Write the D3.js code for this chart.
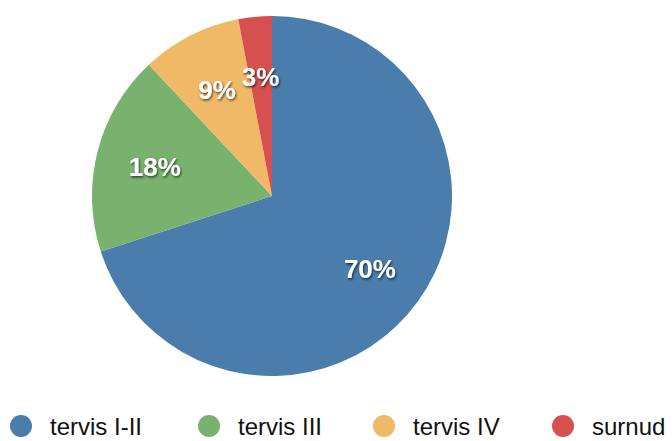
<!DOCTYPE html>
<html>
<head>
<meta charset="utf-8">
<script src="https://cdn.jsdelivr.net/npm/d3@7"></script>
<style>
  html, body { margin: 0; padding: 0; background: #fff; }
  svg { display: block; }
</style>
</head>
<body>
<svg id="chart" width="672" height="441"></svg>
<script>
const categories = ["tervis I-II", "tervis III", "tervis IV", "surnud"];
const values = [70, 18, 9, 3];
const labels = ["70%", "18%", "9%", "3%"];
const colors = ["#4a7dab", "#78b26e", "#f0b967", "#d5504f"];

const svg = d3.select("#chart");
const cx = 272, cy = 196, R = 180, labelR = 121;

const defs = svg.append("defs");
const f = defs.append("filter").attr("id", "shadow")
  .attr("x", "-20%").attr("y", "-20%").attr("width", "140%").attr("height", "150%");
f.append("feDropShadow").attr("dx", 1).attr("dy", 1.5).attr("stdDeviation", 1)
  .attr("flood-color", "#000").attr("flood-opacity", 0.65);

const pie = d3.pie().sort(null).value(d => d);
const arcs = pie(values);
const arc = d3.arc().innerRadius(0).outerRadius(R);
const labelArc = d3.arc().innerRadius(labelR).outerRadius(labelR);
const color = d3.scaleOrdinal().domain(categories).range(colors);

const g = svg.append("g").attr("transform", `translate(${cx},${cy})`);
g.selectAll("path.slice").data(arcs).enter().append("path")
  .attr("class", "slice")
  .attr("d", arc)
  .attr("fill", (d, i) => color(categories[i]));

g.selectAll("text.lbl").data(arcs).enter().append("text")
  .attr("class", "lbl")
  .attr("transform", d => `translate(${labelArc.centroid(d)})`)
  .attr("text-anchor", "middle")
  .attr("dy", "0.4em")
  .attr("font-family", "'Liberation Sans', Arial, Helvetica, sans-serif")
  .attr("font-weight", "bold")
  .attr("font-size", 26)
  .attr("fill", "#fff")
  .attr("filter", "url(#shadow)")
  .text((d, i) => labels[i]);

// legend
const legendX = [21, 209, 384, 563];
const legendY = 426;
const lg = svg.append("g");
const items = lg.selectAll("g.item").data(categories).enter().append("g")
  .attr("class", "item")
  .attr("transform", (d, i) => `translate(${legendX[i]},${legendY})`);
items.append("circle").attr("r", 11).attr("fill", d => color(d));
items.append("text")
  .attr("x", 29)
  .attr("y", 9)
  .attr("font-family", "'Liberation Sans', Arial, Helvetica, sans-serif")
  .attr("font-size", 24)
  .attr("fill", "#111")
  .text(d => d);
</script>
</body>
</html>
